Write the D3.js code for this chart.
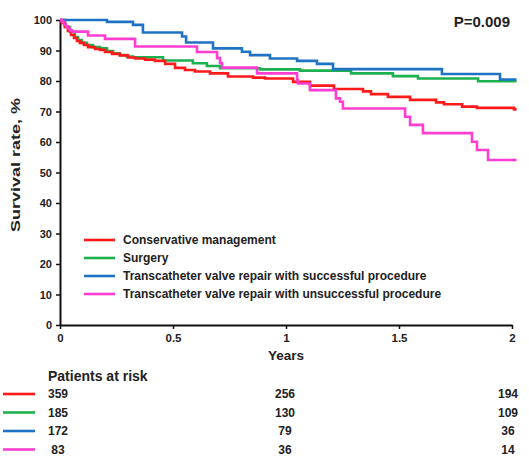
<!DOCTYPE html>
<html>
<head>
<meta charset="utf-8">
<script src="https://cdn.jsdelivr.net/npm/d3@7"></script>
<style>
  html, body { margin: 0; padding: 0; background: #fff; }
  svg { display: block; font-family: "Liberation Sans", Arial, sans-serif; }
</style>
</head>
<body>
<svg id="chart" width="529" height="458"></svg>
<script>
// ---- Data ----
const seriesNames = [
  "Conservative management",
  "Surgery",
  "Transcatheter valve repair with successful procedure",
  "Transcatheter valve repair with unsuccessful procedure"
];
const seriesColors = ["#ff1a1a", "#1db04e", "#1f73c4", "#ff3dd0"];

const conservativeTimes = [0, 0.009, 0.022, 0.035, 0.049, 0.062, 0.075, 0.088, 0.106, 0.124, 0.155, 0.177, 0.199, 0.23, 0.265, 0.301, 0.332, 0.376, 0.42, 0.465, 0.509, 0.553, 0.597, 0.664, 0.743, 0.854, 0.907, 1.031, 1.106, 1.212, 1.341, 1.376, 1.451, 1.549, 1.664, 1.699, 1.779, 1.845, 2.009, 2.02];
const conservativeSurv  = [100, 99.0, 97.7, 96.4, 95.1, 94.1, 93.1, 92.5, 91.8, 91.1, 90.5, 90.2, 89.5, 88.9, 88.4, 87.7, 87.4, 87.0, 86.6, 85.6, 84.3, 83.6, 83.1, 82.5, 81.5, 81.1, 80.8, 79.7, 78.5, 77.4, 76.6, 75.7, 74.8, 73.8, 73.0, 72.4, 71.6, 71.2, 70.7, 70.7];

const surgeryTimes = [0, 0.022, 0.044, 0.066, 0.08, 0.097, 0.119, 0.146, 0.177, 0.208, 0.235, 0.265, 0.296, 0.323, 0.456, 0.588, 0.65, 0.708, 0.885, 1.062, 1.288, 1.473, 1.584, 1.85, 2.02];
const surgerySurv  = [100, 97.7, 96.1, 94.4, 93.4, 92.5, 91.8, 91.1, 90.7, 89.8, 89.1, 88.5, 88.0, 87.8, 86.7, 85.8, 84.9, 84.2, 83.8, 83.4, 82.5, 81.6, 80.8, 79.9, 79.9];

const successTimes = [0, 0.208, 0.323, 0.367, 0.54, 0.558, 0.677, 0.805, 0.841, 0.929, 1.049, 1.137, 1.208, 1.69, 1.947, 2.02];
const successSurv  = [100, 99.4, 98.4, 95.9, 94.6, 92.6, 90.7, 89.6, 88.5, 87.4, 86.6, 85.6, 83.9, 82.3, 80.5, 80.5];

const unsuccessTimes = [0, 0.009, 0.018, 0.027, 0.035, 0.044, 0.053, 0.124, 0.199, 0.332, 0.606, 0.695, 0.708, 0.717, 0.872, 1.049, 1.053, 1.106, 1.221, 1.239, 1.252, 1.527, 1.549, 1.606, 1.823, 1.845, 1.894, 2.02];
const unsuccessSurv  = [100, 99.4, 98.5, 97.9, 97.2, 96.6, 96.2, 94.9, 93.8, 91.3, 89.5, 87.5, 85.9, 84.4, 82.5, 80.3, 79.2, 77.0, 74.3, 73.2, 71.0, 68.3, 65.6, 62.9, 60.1, 57.4, 54.1, 54.1];

const xTickValues = [0, 0.5, 1, 1.5, 2];
const xTickLabels = ["0", "0.5", "1", "1.5", "2"];
const yTickValues = [0, 10, 20, 30, 40, 50, 60, 70, 80, 90, 100];

const riskTimes = [0, 1, 2];
const riskConservative = [359, 256, 194];
const riskSurgery = [185, 130, 109];
const riskSuccess = [172, 79, 36];
const riskUnsuccess = [83, 36, 14];

const pValueText = "P=0.009";

// ---- Build ----
const series = [
  { name: seriesNames[0], color: seriesColors[0], t: conservativeTimes, s: conservativeSurv, risk: riskConservative },
  { name: seriesNames[1], color: seriesColors[1], t: surgeryTimes, s: surgerySurv, risk: riskSurgery },
  { name: seriesNames[2], color: seriesColors[2], t: successTimes, s: successSurv, risk: riskSuccess },
  { name: seriesNames[3], color: seriesColors[3], t: unsuccessTimes, s: unsuccessSurv, risk: riskUnsuccess }
];

const svg = d3.select("#chart");
const x = d3.scaleLinear().domain([0, 2]).range([60, 512]);
const y = d3.scaleLinear().domain([0, 100]).range([325, 20]);
const textColor = "#222";

// Axes
const yAxis = d3.axisLeft(y).tickValues(yTickValues).tickSize(4).tickSizeOuter(0).tickPadding(4);
const gy = svg.append("g").attr("transform", `translate(${x(0)},0)`).call(yAxis);
const xAxis = d3.axisBottom(x).tickValues(xTickValues).tickFormat((d, i) => xTickLabels[i]).tickSize(4).tickSizeOuter(0).tickPadding(5);
const gx = svg.append("g").attr("transform", `translate(0,${y(0)})`).call(xAxis);

[gx, gy].forEach(g => {
  g.select(".domain").attr("stroke", "#111").attr("stroke-width", 2);
  g.selectAll(".tick line").attr("stroke", "#111").attr("stroke-width", 1.5);
  g.selectAll(".tick text").attr("fill", textColor).style("font-weight", "bold")
    .style("font-family", "'Liberation Sans', Arial, sans-serif");
});
gy.selectAll(".tick text").style("font-size", "11px");
gx.selectAll(".tick text").style("font-size", "11.5px");

// Axis titles
svg.append("text")
  .attr("x", x(1)).attr("y", 360)
  .attr("text-anchor", "middle")
  .attr("fill", textColor)
  .style("font-size", "13.5px").style("font-weight", "bold")
  .text("Years");

svg.append("text")
  .attr("transform", `translate(19.5,165) rotate(-90)`)
  .attr("text-anchor", "middle")
  .attr("fill", textColor)
  .attr("textLength", 134)
  .attr("lengthAdjust", "spacingAndGlyphs")
  .style("font-size", "13.5px").style("font-weight", "bold")
  .text("Survival rate, %");

// P value
svg.append("text")
  .attr("x", 510).attr("y", 27)
  .attr("text-anchor", "end")
  .attr("fill", textColor)
  .style("font-size", "15px").style("font-weight", "bold")
  .text(pValueText);

// Curves
const line = d3.line()
  .x(d => x(d[0]))
  .y(d => y(d[1]))
  .curve(d3.curveStepAfter);

const drawOrder = [1, 0, 2, 3];
drawOrder.forEach(i => {
  const sr = series[i];
  const pts = sr.t.map((t, k) => [t, sr.s[k]]);
  svg.append("path")
    .attr("d", line(pts))
    .attr("fill", "none")
    .attr("stroke", sr.color)
    .attr("stroke-width", 2.6)
    .attr("stroke-linejoin", "miter");
});

// Legend
const legendY = [240, 258, 276, 294];
series.forEach((sr, i) => {
  svg.append("line")
    .attr("x1", 84).attr("x2", 115)
    .attr("y1", legendY[i]).attr("y2", legendY[i])
    .attr("stroke", sr.color).attr("stroke-width", 2.6);
  svg.append("text")
    .attr("x", 123).attr("y", legendY[i] + 4.3)
    .attr("fill", textColor)
    .style("font-size", "12px").style("font-weight", "bold")
    .text(sr.name);
});

// Patients at risk
svg.append("text")
  .attr("x", 48).attr("y", 381)
  .attr("fill", textColor)
  .style("font-size", "14px").style("font-weight", "bold")
  .text("Patients at risk");

const riskRowY = [394, 412.5, 431, 449.5];
const riskOffsets = [-2, -1, -4];
series.forEach((sr, i) => {
  svg.append("line")
    .attr("x1", 3).attr("x2", 35)
    .attr("y1", riskRowY[i]).attr("y2", riskRowY[i])
    .attr("stroke", sr.color).attr("stroke-width", 2.6);
  sr.risk.forEach((n, k) => {
    svg.append("text")
      .attr("x", x(riskTimes[k]) + riskOffsets[k]).attr("y", riskRowY[i] + 4.3)
      .attr("text-anchor", "middle")
      .attr("fill", textColor)
      .style("font-size", "12px").style("font-weight", "bold")
      .text(n);
  });
});
</script>
</body>
</html>
